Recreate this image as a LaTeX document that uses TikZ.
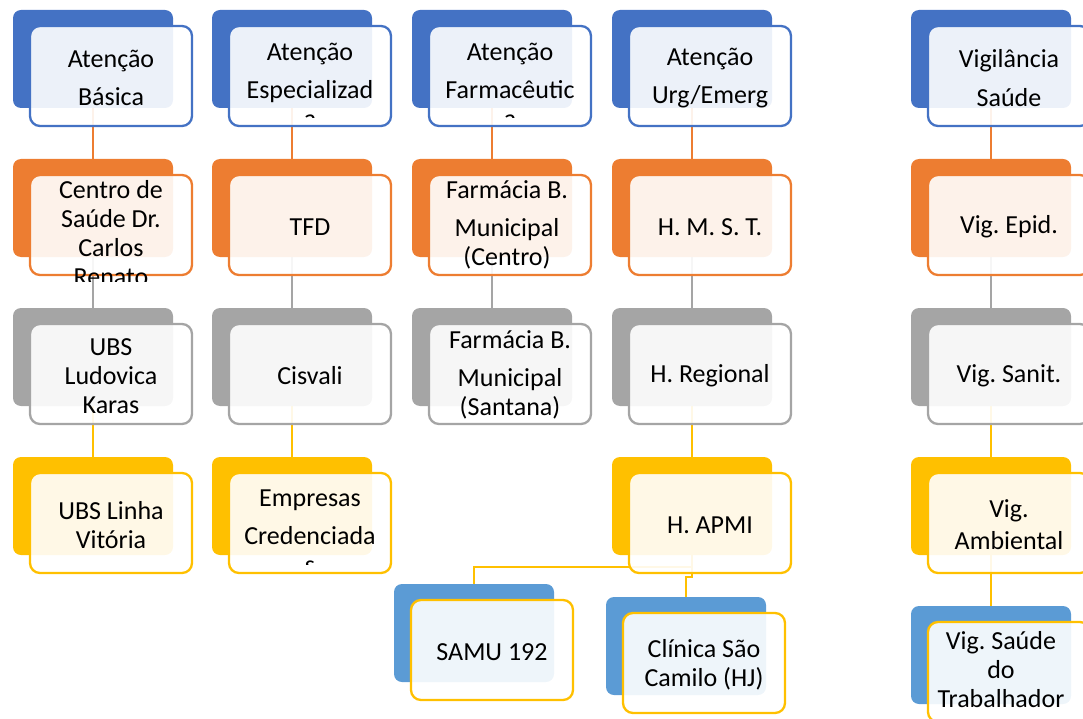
\documentclass[tikz,border=0pt]{standalone}
\usepackage{fontspec}
\setmainfont{Carlito}
\usetikzlibrary{backgrounds}

\definecolor{ablue}{RGB}{68,114,196}
\definecolor{aorange}{RGB}{237,125,49}
\definecolor{agray}{RGB}{165,165,165}
\definecolor{agold}{RGB}{255,192,0}
\definecolor{alblue}{RGB}{91,155,213}

\begin{document}
\begin{tikzpicture}[x=1pt,y=1pt,yscale=-1,xscale=1,
  backbox/.style={fill=#1, rounded corners=8pt, minimum width=160pt, minimum height=98pt, inner sep=0pt, outer sep=0pt},
  frontbox/.style={draw=#1, line width=2.3pt, rounded corners=10pt, fill=white, fill opacity=0.9, minimum width=162pt, minimum height=100pt, inner sep=0pt, outer sep=0pt},
  label/.style={align=center, font=\fontsize{26pt}{29pt}\selectfont\frenchspacing, inner sep=0pt, yshift=-2pt},
  link/.style={draw=#1, line width=2pt}]
\useasboundingbox (0,0) rectangle (1083,719);

%Column: Atencao Basica
\node [backbox=ablue] (bA1) at (93,59) {};
\node [frontbox=ablue] (fA1) at ([shift={(18,17)}]bA1) {};
% Text Node
\node [label] (tA1) at (fA1) {Atenção\\[9.5pt]Básica};
\node [backbox=aorange] (bA2) at (93,208) {};
\node [frontbox=aorange] (fA2) at ([shift={(18,17)}]bA2) {};
% Text Node
\begin{scope}
\clip (fA2.north west) rectangle ([shift={(0,6)}]fA2.south east);
\node [label] (tA2) at ([shift={(0,6.5)}]fA2) {Centro de\\Saúde Dr.\\Carlos\\Renato};
\end{scope}
\node [backbox=agray] (bA3) at (93,357) {};
\node [frontbox=agray] (fA3) at ([shift={(18,17)}]bA3) {};
% Text Node
\node [label] (tA3) at (fA3) {UBS\\Ludovica\\Karas};
\node [backbox=agold] (bA4) at (93,506) {};
\node [frontbox=agold] (fA4) at ([shift={(18,17)}]bA4) {};
% Text Node
\node [label] (tA4) at (fA4) {UBS Linha\\Vitória};

%Column: Atencao Especializada
\node [backbox=ablue] (bB1) at (292,59) {};
\node [frontbox=ablue] (fB1) at ([shift={(18,17)}]bB1) {};
% Text Node
\begin{scope}
\clip (fB1.north west) rectangle ([shift={(0,-8)}]fB1.south east);
\node [label] (tB1) at ([shift={(0,7.5)}]fB1) {Atenção\\[9.5pt]Especializad\\a};
\end{scope}
\node [backbox=aorange] (bB2) at (292,208) {};
\node [frontbox=aorange] (fB2) at ([shift={(18,17)}]bB2) {};
% Text Node
\node [label] (tB2) at (fB2) {TFD};
\node [backbox=agray] (bB3) at (292,357) {};
\node [frontbox=agray] (fB3) at ([shift={(18,17)}]bB3) {};
% Text Node
\node [label] (tB3) at (fB3) {Cisvali};
\node [backbox=agold] (bB4) at (292,506) {};
\node [frontbox=agold] (fB4) at ([shift={(18,17)}]bB4) {};
% Text Node
\begin{scope}
\clip (fB4.north west) rectangle ([shift={(0,-9)}]fB4.south east);
\node [label] (tB4) at ([shift={(0,6.5)}]fB4) {Empresas\\[9.5pt]Credenciada\\s};
\end{scope}

%Column: Atencao Farmaceutica
\node [backbox=ablue] (bC1) at (492,59) {};
\node [frontbox=ablue] (fC1) at ([shift={(18,17)}]bC1) {};
% Text Node
\begin{scope}
\clip (fC1.north west) rectangle ([shift={(0,-8)}]fC1.south east);
\node [label] (tC1) at ([shift={(0,7.5)}]fC1) {Atenção\\[9.5pt]Farmacêutic\\a};
\end{scope}
\node [backbox=aorange] (bC2) at (492,208) {};
\node [frontbox=aorange] (fC2) at ([shift={(18,17)}]bC2) {};
% Text Node
\node [label] (tC2) at ([shift={(-3,-2)}]fC2) {Farmácia B.\\[9.5pt]Municipal\\(Centro)};
\node [backbox=agray] (bC3) at (492,357) {};
\node [frontbox=agray] (fC3) at ([shift={(18,17)}]bC3) {};
% Text Node
\node [label] (tC3) at ([shift={(0,-1)}]fC3) {Farmácia B.\\[9.5pt]Municipal\\(Santana)};

%Column: Atencao Urg/Emerg
\node [backbox=ablue] (bD1) at (692,59) {};
\node [frontbox=ablue] (fD1) at ([shift={(18,17)}]bD1) {};
% Text Node
\node [label] (tD1) at (fD1) {Atenção\\[9.5pt]Urg/Emerg};
\node [backbox=aorange] (bD2) at (692,208) {};
\node [frontbox=aorange] (fD2) at ([shift={(18,17)}]bD2) {};
% Text Node
\node [label] (tD2) at (fD2) {H. M. S. T.};
\node [backbox=agray] (bD3) at (692,357) {};
\node [frontbox=agray] (fD3) at ([shift={(18,17)}]bD3) {};
% Text Node
\node [label] (tD3) at (fD3) {H. Regional};
\node [backbox=agold] (bD4) at (692,506) {};
\node [frontbox=agold] (fD4) at ([shift={(18,17)}]bD4) {};
% Text Node
\node [label] (tD4) at (fD4) {H. APMI};
\node [backbox=alblue] (bSamu) at (474,633) {};
\node [frontbox=agold] (fSamu) at ([shift={(18,17)}]bSamu) {};
% Text Node
\node [label] (tSamu) at (fSamu) {SAMU 192};
\node [backbox=alblue] (bClin) at (686,646) {};
\node [frontbox=agold] (fClin) at ([shift={(18,17)}]bClin) {};
% Text Node
\node [label] (tClin) at (fClin) {Clínica São\\Camilo (HJ)};

%Column: Vigilancia Saude
\node [backbox=ablue] (bE1) at (991,59) {};
\node [frontbox=ablue] (fE1) at ([shift={(18,17)}]bE1) {};
% Text Node
\node [label] (tE1) at (fE1) {Vigilância\\[9.5pt]Saúde};
\node [backbox=aorange] (bE2) at (991,208) {};
\node [frontbox=aorange] (fE2) at ([shift={(18,17)}]bE2) {};
% Text Node
\node [label] (tE2) at (fE2) {Vig. Epid.};
\node [backbox=agray] (bE3) at (991,357) {};
\node [frontbox=agray] (fE3) at ([shift={(18,17)}]bE3) {};
% Text Node
\node [label] (tE3) at (fE3) {Vig. Sanit.};
\node [backbox=agold] (bE4) at (991,506) {};
\node [frontbox=agold] (fE4) at ([shift={(18,17)}]bE4) {};
% Text Node
\node [label] (tE4) at (fE4) {Vig.\\[3pt]Ambiental};
\node [backbox=alblue] (bE5) at (991,655) {};
\node [frontbox=agold] (fE5) at ([shift={(18,17)}]bE5) {};
% Text Node
\node [label] (tE5) at ([shift={(-8,-4)}]fE5) {Vig. Saúde\\do\\Trabalhador};

%Connectors
\begin{scope}[on background layer]
\draw [link=aorange] (bA1.south) -- (bA2.north);
\draw [link=agray] (bA2.south) -- (bA3.north);
\draw [link=agold] (bA3.south) -- (bA4.north);
\draw [link=aorange] (bB1.south) -- (bB2.north);
\draw [link=agray] (bB2.south) -- (bB3.north);
\draw [link=agold] (bB3.south) -- (bB4.north);
\draw [link=aorange] (bC1.south) -- (bC2.north);
\draw [link=agray] (bC2.south) -- (bC3.north);
\draw [link=aorange] (bD1.south) -- (bD2.north);
\draw [link=agray] (bD2.south) -- (bD3.north);
\draw [link=agold] (bD3.south) -- (bD4.north);
\draw [link=agold] (bD4.south) -- ++(0,11.5) -| (bSamu.north);
\draw [link=agold] (bD4.south) -- ++(0,22) -| (bClin.north);
\draw [link=aorange] (bE1.south) -- (bE2.north);
\draw [link=agray] (bE2.south) -- (bE3.north);
\draw [link=agold] (bE3.south) -- (bE4.north);
\draw [link=agold] (bE4.south) -- (bE5.north);
\end{scope}

\end{tikzpicture}
\end{document}
